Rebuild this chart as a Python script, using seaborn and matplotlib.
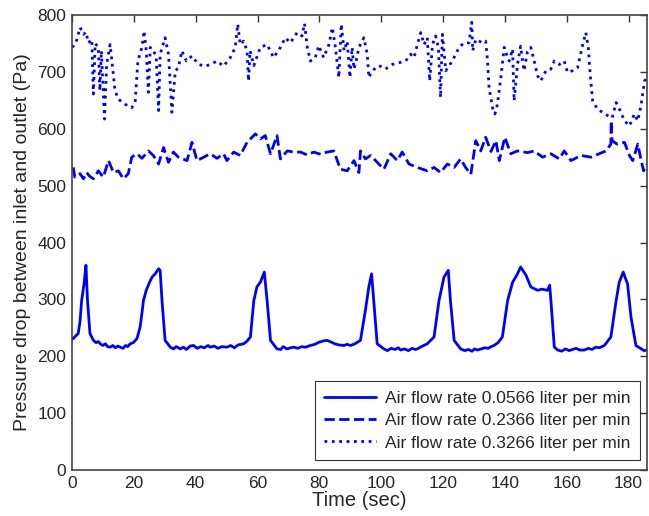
import numpy as np
import pandas as pd
import matplotlib
matplotlib.use("Agg")
import matplotlib.pyplot as plt
import seaborn as sns

# time (sec) and pressure drop (Pa)
t_low = [0, 0.4, 1.2, 2.0, 2.6, 3.1, 3.9, 4.5, 5.0, 5.8, 6.9, 7.8, 8.5, 9.1, 10.0, 10.8, 11.5, 12.3,
         13.2, 14.0, 14.8, 15.6, 16.5, 17.3, 18.0, 18.8, 19.8, 21.0, 22.0, 22.6, 23.1, 24.0, 25.3, 26.0,
         26.9, 27.5, 28.0, 28.5, 29.1, 30.1, 31.8, 32.8, 33.7, 35.0, 36.0, 37.0, 38.2, 39.3, 40.5, 41.6,
         42.8, 44.0, 44.7, 46.0, 47.2, 48.5, 50.1, 51.3, 52.5, 53.7, 55.5, 56.5, 57.7, 58.8, 59.8, 60.9,
         62.2, 63.1, 64.2, 66.3, 67.5, 68.3, 69.5, 70.7, 71.7, 73.0, 74.2, 75.5, 77.1, 78.5, 80.0, 81.3,
         82.5, 83.8, 85.0, 86.3, 87.9, 89.0, 90.1, 91.5, 93.3, 94.9, 96.0, 96.9, 97.6, 98.7, 100.9, 102.0,
         103.2, 104.5, 105.5, 106.3, 107.5, 108.8, 110.0, 111.0, 111.7, 113.0, 114.9, 117.1, 118.7, 120.3,
         121.7, 122.4, 123.6, 125.7, 127.0, 128.2, 129.4, 130.2, 131.1, 132.4, 133.5, 134.6, 135.6, 136.5,
         137.8, 139.2, 140.9, 142.5, 144.1, 145.1, 146.8, 148.4, 150.6, 152.0, 153.8, 154.5, 154.9, 156.0,
         157.1, 158.4, 159.6, 160.8, 161.9, 163.0, 164.3, 165.7, 167.0, 168.2, 169.4, 170.6, 172.2, 174.3,
         176.0, 177.0, 178.3, 179.7, 180.8, 182.4, 184.1, 185.0, 186.0]
p_low = [231, 231, 236, 240, 262, 298, 328, 360, 298, 240, 228, 224, 226, 222, 219, 222, 217, 216,
         219, 215, 218, 216, 214, 219, 217, 222, 224, 231, 251, 275, 298, 316, 333, 340,
         345, 350, 354, 351, 298, 228, 216, 213, 217, 213, 216, 212, 218, 219, 214, 217,
         215, 219, 216, 218, 214, 217, 216, 219, 215, 220, 222, 226, 234, 298, 322, 330,
         348, 298, 228, 213, 212, 217, 213, 215, 216, 214, 217, 216, 219, 221, 225, 227,
         228, 225, 222, 220, 219, 221, 219, 222, 228, 281, 322, 345, 298, 222, 213, 210,
         214, 212, 215, 211, 213, 210, 214, 212, 213, 217, 222, 234, 298, 339,
         351, 298, 228, 213, 210, 212, 209, 213, 211, 213, 215, 214, 217, 219,
         224, 234, 298, 330, 345, 357, 343, 322, 316, 318, 316, 325, 298, 216,
         211, 209, 213, 210, 212, 214, 211, 211, 214, 212, 216, 215, 219, 234,
         298, 330, 348, 327, 269, 219, 213, 210, 211]

t_mid = [0.4, 0.9, 2.6, 3.7, 4.7, 5.8, 6.9, 8.5, 10.1, 11.8, 13.4, 15.0, 16.6, 18.2, 19.3, 21.0, 22.6,
         24.7, 26.3, 28.0, 29.6, 31.2, 32.8, 34.4, 37.2, 38.8, 40.4, 42.6, 44.7, 46.9, 49.0, 50.1, 52.3,
         54.4, 56.6, 59.3, 60.9, 62.5, 64.2, 66.3, 67.4, 69.6, 71.7, 73.9, 76.0, 78.2, 80.4, 82.5, 84.7,
         86.8, 89.0, 91.2, 92.8, 93.3, 94.9, 96.6, 98.7, 100.9, 103.1, 105.2, 106.8, 109.0, 111.7, 114.9,
         117.1, 119.2, 121.4, 123.6, 125.7, 127.3, 129.0, 130.6, 132.2, 133.8, 135.5, 137.1, 138.2, 140.0,
         141.9, 144.1, 147.3, 149.5, 152.2, 154.9, 157.6, 159.2, 161.4, 164.6, 167.9, 170.5, 172.7, 174.3,
         174.4, 174.7, 176.3, 178.7, 180.3, 181.4, 183.0, 184.1, 184.9, 186.0]
p_mid = [532, 515, 521, 512, 523, 516, 512, 526, 515, 544, 523, 526, 512, 521, 550, 556, 548,
         561, 553, 538, 567, 541, 559, 550, 544, 576, 544, 550, 556, 548, 556, 544, 559,
         553, 576, 591, 582, 588, 556, 588, 547, 561, 559, 559, 554, 559, 555, 559, 561,
         529, 526, 544, 523, 561, 547, 553, 541, 529, 556, 544, 559, 538, 532, 526,
         532, 523, 538, 532, 547, 532, 520, 579, 561, 585, 560, 579, 544, 585,
         556, 561, 558, 561, 550, 556, 547, 561, 544, 553, 550, 556, 561, 573,
         614, 579, 573, 576, 553, 544, 573, 544, 526, 538]

t_high = [0, 1.2, 2.6, 3.7, 4.5, 5.3, 6.4, 6.9, 7.5, 8.5, 9.0, 9.5, 10.5, 11.2, 12.3, 12.9, 13.9, 15.0,
          16.0, 17.2, 18.3, 19.3, 20.4, 21.3, 22.6, 23.3, 24.0, 24.7, 25.3, 26.3, 27.2, 28.0, 28.5, 30.1,
          31.2, 32.3, 33.4, 34.4, 35.5, 37.0, 38.8, 40.9, 43.1, 44.7, 46.9, 49.0, 51.2, 52.8, 53.6, 54.4,
          55.5, 56.6, 57.1, 57.6, 58.8, 60.9, 63.1, 65.2, 67.4, 69.0, 70.6, 72.8, 74.4, 75.2, 76.1, 77.1,
          78.7, 79.8, 81.4, 83.1, 84.2, 85.2, 86.3, 87.1, 88.0, 89.0, 89.9, 90.6, 91.2, 92.0, 92.8, 94.4,
          95.5, 96.0, 97.1, 99.3, 101.4, 103.6, 105.7, 107.9, 109.5, 110.6, 111.7, 112.8, 113.9, 114.9,
          115.7, 116.6, 117.6, 118.5, 119.2, 119.8, 120.9, 123.0, 125.2, 126.8, 128.4, 129.3, 129.6, 130.6,
          132.8, 133.8, 134.4, 134.9, 136.0, 136.8, 137.6, 138.7, 139.8, 140.6, 141.4, 142.5, 143.0, 144.1,
          145.1, 146.2, 147.3, 148.4, 149.5, 150.6, 151.6, 153.3, 154.9, 156.0, 157.6, 159.2, 160.3, 161.9,
          163.5, 165.2, 166.2, 167.0, 167.6, 168.4, 170.0, 171.6, 173.3, 174.7, 176.0, 177.1, 178.7, 180.3,
          181.9, 183.0, 184.1, 185.2, 186.0]
p_high = [743, 750, 778, 766, 770, 751, 757, 661, 750, 743, 667, 737, 617, 713, 748, 719, 667, 652,
          648, 643, 640, 637, 646, 719, 743, 772, 737, 664, 743, 737, 728, 632, 731, 760,
          731, 629, 702, 707, 737, 719, 728, 713, 710, 713, 719, 710, 725, 743, 784, 748,
          754, 737, 684, 737, 711, 743, 748, 725, 743, 760, 751, 769, 763, 785, 743, 719,
          725, 746, 725, 748, 778, 743, 690, 784, 737, 754, 690, 743, 705, 722, 743, 760,
          731, 690, 702, 711, 705, 713, 716, 719, 731, 725, 748, 769, 748, 760,
          684, 748, 763, 743, 655, 766, 702, 719, 743, 751, 751, 787, 737, 757,
          751, 754, 719, 672, 637, 626, 643, 690, 743, 730, 719, 740, 649, 713,
          745, 702, 735, 743, 719, 693, 684, 702, 705, 719, 713, 719, 699, 702,
          707, 748, 769, 743, 696, 649, 634, 629, 623, 619, 646, 634, 614, 605,
          626, 614, 643, 684, 690]

labels = ["Air flow rate 0.0566 liter per min",
          "Air flow rate 0.2366 liter per min",
          "Air flow rate 0.3266 liter per min"]

sns.set_style("white")
plt.rcParams["font.family"] = ["Liberation Sans", "DejaVu Sans"]

fig = plt.figure(figsize=(6.49, 5.16), dpi=100)
ax = fig.add_axes([0.111, 0.089, 0.886, 0.882])

styles = ["-", "--", ":"]
for tt, pp, lab, ls in zip([t_low, t_mid, t_high], [p_low, p_mid, p_high], labels, styles):
    df = pd.DataFrame({"t": tt, "p": pp})
    sns.lineplot(data=df, x="t", y="p", ax=ax, color="#0000ff", linestyle=ls,
                 linewidth=2, estimator=None, sort=False, label=lab)

ax.set_xlim(0, 186)
ax.set_ylim(0, 800)
ax.set_xticks(np.arange(0, 181, 20))
ax.set_yticks(np.arange(0, 801, 100))
ax.tick_params(direction="in", length=5, width=1, top=True, right=True,
               labelsize=12.5, color="#333333", pad=4)
for s in ax.spines.values():
    s.set_color("#444444")
    s.set_linewidth(1.2)
ax.set_xlabel("Time (sec)", fontsize=14.5, labelpad=0)
ax.set_ylabel("Pressure drop between inlet and outlet (Pa)", fontsize=14, labelpad=5)

leg = ax.legend(loc="lower right", fontsize=12.5, frameon=True, fancybox=False,
                edgecolor="black", handlelength=3.0, borderpad=0.55, labelspacing=0.42,
                handletextpad=0.5, borderaxespad=0, bbox_to_anchor=(0.988, 0.022))
leg.get_frame().set_linewidth(0.8)

fig.savefig("out.png", dpi=100)
